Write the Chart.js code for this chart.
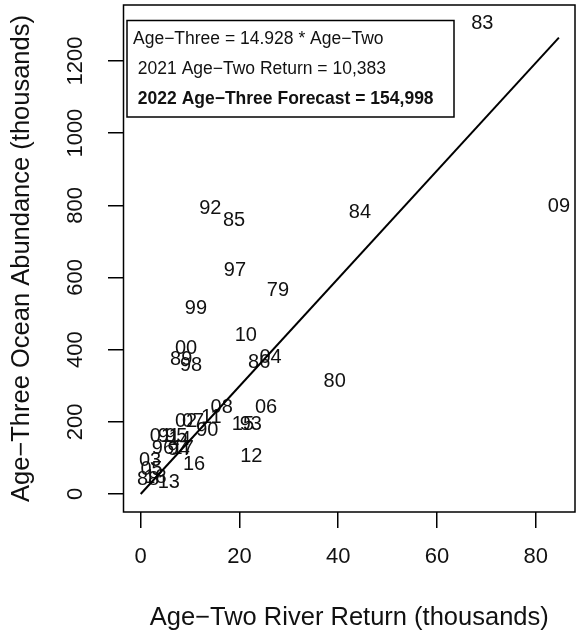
<!DOCTYPE html>
<html>
<head>
<meta charset="utf-8">
<script src="https://cdn.jsdelivr.net/npm/chart.js@4"></script>
<style>
    html, body { margin: 0; padding: 0; background: #fff; }
    #wrap { width: 576px; height: 638px; }
</style>
</head>
<body>
<div id="wrap"><canvas id="myChart" width="576" height="638"></canvas></div>
<script>
// return years (labels drawn at each point)
const years = ['79', '80', '83', '84', '85', '86', '88', '89', '90', '91', '92', '93', '94', '95', '96', '97', '98', '99',
    '00', '01', '02', '03', '04', '05', '06', '07', '08', '09', '10', '11', '12', '13', '14', '15', '16', '17', '18'];
// age-two river return (thousands)
const ageTwo = [27.8, 39.3, 69.2, 44.4, 18.9, 24.0, 1.5, 8.2, 13.5, 5.7, 14.1, 22.3, 7.7, 7.2, 4.5, 19.1, 10.2, 11.2,
    9.2, 4.1, 9.2, 1.9, 26.3, 2.2, 25.4, 10.6, 16.4, 84.7, 21.3, 14.3, 22.4, 5.7, 7.9, 20.7, 10.8, 8.5, 3.0];
// age-three ocean abundance (thousands)
const ageThree = [563, 313, 1303, 780, 757, 365, 40, 374, 177, 158, 790, 193, 122, 160, 127, 618, 356, 513,
    402, 158, 200, 94, 377, 68, 241, 202, 240, 798, 438, 213, 105, 32, 150, 193, 82, 125, 45];

const xTicks = [0, 20, 40, 60, 80];
const yTicks = [0, 200, 400, 600, 800, 1000, 1200];
const slope = 14.928;
const legendLines = ['Age\u2212Three = 14.928 * Age\u2212Two', ' 2021 Age\u2212Two Return = 10,383', ' 2022 Age\u2212Three Forecast = 154,998'];

const FONT = "'Liberation Sans', Arial, sans-serif";

const points = ageTwo.map((x, i) => ({ x: x, y: ageThree[i] }));
const xMax = Math.max(...ageTwo);
const fitLine = [{ x: 0, y: 0 }, { x: xMax, y: slope * xMax }];

const yearLabels = {
    id: 'yearLabels',
    beforeDatasetsDraw(chart) {
        const ctx = chart.ctx;
        const meta = chart.getDatasetMeta(0);
        ctx.save();
        ctx.font = '20px ' + FONT;
        ctx.fillStyle = '#111';
        ctx.textAlign = 'center';
        ctx.textBaseline = 'middle';
        meta.data.forEach((pt, i) => {
            ctx.fillText(years[i], pt.x, pt.y);
        });
        ctx.restore();
    }
};

const boxAndLegend = {
    id: 'boxAndLegend',
    afterDraw(chart) {
        const ctx = chart.ctx;
        const a = chart.chartArea;
        ctx.save();
        ctx.strokeStyle = '#000';
        ctx.lineWidth = 1.5;
        ctx.strokeRect(a.left, a.top, a.right - a.left, a.bottom - a.top);

        // y tick labels, rotated like R
        const ys = chart.scales.y;
        ctx.font = '22px ' + FONT;
        ctx.fillStyle = '#111';
        ctx.textAlign = 'center';
        ctx.textBaseline = 'middle';
        yTicks.forEach(v => {
            const py = ys.getPixelForValue(v);
            ctx.save();
            ctx.translate(76, py);
            ctx.rotate(-Math.PI / 2);
            ctx.fillText(String(v), 0, 0);
            ctx.restore();
        });

        // legend box
        const lx = a.left + 3.5, ly = a.top + 15.5;
        ctx.fillStyle = '#fff';
        ctx.fillRect(lx, ly, 327, 96.5);
        ctx.strokeRect(lx, ly, 327, 96.5);
        ctx.fillStyle = '#111';
        ctx.textAlign = 'left';
        legendLines.forEach((t, i) => {
            ctx.font = (i === 2 ? 'bold ' : '') + '17.5px ' + FONT;
            ctx.fillText(t, lx + 6, ly + 19 + i * 30);
        });
        ctx.restore();
    }
};

const ctx = document.getElementById('myChart').getContext('2d');

new Chart(ctx, { // eslint-disable-line
    type: 'scatter',
    data: {
        datasets: [{
            data: points,
            pointRadius: 0,
            pointHoverRadius: 0
        },
        {
            data: fitLine,
            showLine: true,
            borderColor: '#000',
            borderWidth: 2,
            pointRadius: 0
        }]
    },
    options: {
        responsive: false,
        devicePixelRatio: 1,
        animation: false,
        events: [],
        layout: { padding: { top: 5, right: 1, left: 0, bottom: 0 } },
        plugins: { legend: { display: false }, tooltip: { enabled: false } },
        scales: {
            x: {
                type: 'linear',
                min: -3.48,
                max: 87.96,
                afterBuildTicks: (s) => { s.ticks = xTicks.map(v => ({ value: v })); },
                afterFit: (s) => { s.height = 126; },
                border: { display: false },
                grid: { drawOnChartArea: false, drawTicks: true, tickLength: 16, color: '#000', lineWidth: 1.5 },
                ticks: { font: { size: 22, family: FONT }, color: '#111', padding: 16, maxRotation: 0 },
                title: {
                    display: true,
                    text: 'Age\u2212Two River Return (thousands)',
                    font: { size: 25.5, family: FONT },
                    color: '#111',
                    padding: { top: 0, bottom: 5 }
                }
            },
            y: {
                type: 'linear',
                min: -49.9,
                max: 1355,
                afterBuildTicks: (s) => { s.ticks = yTicks.map(v => ({ value: v })); },
                afterFit: (s) => { s.width = 123.5; },
                border: { display: false },
                grid: { drawOnChartArea: false, drawTicks: true, tickLength: 15.5, color: '#000', lineWidth: 1.5 },
                ticks: { display: false },
                title: {
                    display: true,
                    text: 'Age\u2212Three Ocean Abundance (thousands)',
                    font: { size: 25.5, family: FONT },
                    color: '#111',
                    padding: { top: 7, bottom: 0 }
                }
            }
        }
    },
    plugins: [yearLabels, boxAndLegend]
});
</script>
</body>
</html>
